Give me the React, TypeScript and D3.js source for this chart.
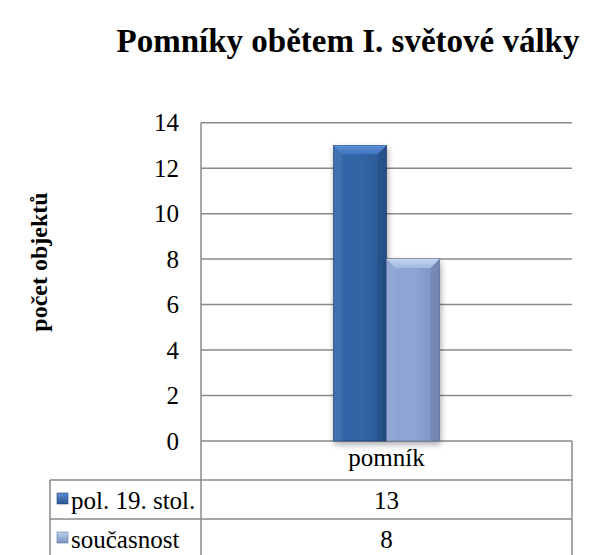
import React from "react";
import * as d3 from "d3";

const categories = ["pomník"];
const seriesNames = ["pol. 19. stol.", "současnost"];
const seriesValues = [[13], [8]];
const yTicks = [0, 2, 4, 6, 8, 10, 12, 14];
const title = "Pomníky obětem I. světové války";
const yTitle = "počet objektů";

const W = 595;
const H = 555;
const plotL = 201;
const plotR = 572;
const plotT = 122.7;
const plotB = 441;
const rowH = 39;
const tableL = 50;
const FONT = "'Liberation Serif', serif";
const FS = 25;

export default function App() {
  const y = d3.scaleLinear().domain([0, 14]).range([plotB, plotT]);
  const x0 = d3.scaleBand<string>().domain(categories).range([plotL, plotR]).paddingInner(0).paddingOuter(1.25);
  const x1 = d3.scaleBand<string>().domain(seriesNames).range([0, x0.bandwidth()]);
  const gridColor = "#8a8a8a";
  const bevel = 9;
  const ts = { fontFamily: FONT };

  return (
    <svg width={W} height={H} style={{ position: "absolute", left: 0, top: 0, background: "#fff" }}>
      <defs>
        <linearGradient id="g0" x1="0" x2="1" y1="0" y2="0">
          <stop offset="0" stopColor="#3466A8" />
          <stop offset="0.5" stopColor="#3265A6" />
          <stop offset="1" stopColor="#2A5690" />
        </linearGradient>
        <linearGradient id="g1" x1="0" x2="1" y1="0" y2="0">
          <stop offset="0" stopColor="#8AA2D2" />
          <stop offset="0.5" stopColor="#8EA7D6" />
          <stop offset="1" stopColor="#7A91BF" />
        </linearGradient>
        <linearGradient id="t0" x1="0" x2="0" y1="0" y2="1">
          <stop offset="0" stopColor="#5E90D6" />
          <stop offset="1" stopColor="#3D73BE" />
        </linearGradient>
        <linearGradient id="t1" x1="0" x2="0" y1="0" y2="1">
          <stop offset="0" stopColor="#C2D4F2" />
          <stop offset="1" stopColor="#A2B8E0" />
        </linearGradient>
        <linearGradient id="k0" x1="0" x2="0" y1="0" y2="1">
          <stop offset="0" stopColor="#5B8DD3" />
          <stop offset="1" stopColor="#2A5690" />
        </linearGradient>
        <linearGradient id="k1" x1="0" x2="0" y1="0" y2="1">
          <stop offset="0" stopColor="#BCD0F0" />
          <stop offset="1" stopColor="#7A91BF" />
        </linearGradient>
        <filter id="sh" x="-20%" y="-20%" width="140%" height="140%">
          <feGaussianBlur in="SourceAlpha" stdDeviation="3" />
          <feOffset dx="1" dy="3" result="b" />
          <feComponentTransfer><feFuncA type="linear" slope="0.35" /></feComponentTransfer>
          <feMerge><feMergeNode /><feMergeNode in="SourceGraphic" /></feMerge>
        </filter>
      </defs>

      <text x={348} y={52} textAnchor="middle" fontSize={33} fontWeight="bold" fill="#000" style={ts}>{title}</text>

      <text transform={`translate(47,${262}) rotate(-90)`} textAnchor="middle" fontSize={24} fontWeight="bold" fill="#000" style={ts}>{yTitle}</text>

      {yTicks.map((t) => (
        <g key={t}>
          <line x1={plotL} x2={plotR} y1={y(t)} y2={y(t)} stroke={gridColor} strokeWidth={1.5} />
          <text x={179} y={y(t) + 8.5} textAnchor="end" fontSize={FS} fill="#000" style={ts}>{t}</text>
        </g>
      ))}
      <line x1={plotL} x2={plotL} y1={plotT} y2={H} stroke={gridColor} strokeWidth={1.5} />
      <line x1={plotR} x2={plotR} y1={plotB} y2={H} stroke={gridColor} strokeWidth={1.5} />
      {seriesNames.map((s, i) => (
        <line key={s} x1={tableL} x2={plotR} y1={plotB + rowH * (i + 1)} y2={plotB + rowH * (i + 1)} stroke={gridColor} strokeWidth={1.5} />
      ))}
      <line x1={tableL} x2={tableL} y1={plotB + rowH} y2={H} stroke={gridColor} strokeWidth={1.5} />

      {categories.map((c, ci) => (
        <g key={c}>
          {seriesNames.map((s, si) => {
            const v = seriesValues[si][ci];
            const bx = (x0(c) ?? 0) + (x1(s) ?? 0);
            const bw = x1.bandwidth();
            const by = y(v);
            const bh = plotB - by;
            return (
              <g key={s} filter="url(#sh)">
                <rect x={bx} y={by} width={bw} height={bh} fill={`url(#g${si})`} stroke={si === 0 ? "#234A80" : "#6479A3"} strokeWidth={0.8} />
                <path d={`M${bx},${by} L${bx + bw},${by} L${bx + bw - bevel},${by + bevel} L${bx + bevel},${by + bevel} Z`} fill={`url(#t${si})`} />
                <path d={`M${bx},${by} L${bx + bevel},${by + bevel} L${bx + bevel},${by + bh} L${bx},${by + bh} Z`} fill="#ffffff" opacity={0.06} />
                <path d={`M${bx + bw},${by} L${bx + bw - bevel},${by + bevel} L${bx + bw - bevel},${by + bh} L${bx + bw},${by + bh} Z`} fill="#000000" opacity={0.08} />
              </g>
            );
          })}
          <text x={(x0(c) ?? 0) + x0.bandwidth() / 2} y={plotB + 25} textAnchor="middle" fontSize={FS} fill="#000" style={ts}>{c}</text>
          {seriesNames.map((s, si) => (
            <text key={s} x={(x0(c) ?? 0) + x0.bandwidth() / 2} y={plotB + rowH * (si + 1) + 29} textAnchor="middle" fontSize={FS} fill="#000" style={ts}>{seriesValues[si][ci]}</text>
          ))}
        </g>
      ))}

      {seriesNames.map((s, si) => {
        const ry = plotB + rowH * (si + 1);
        return (
          <g key={s}>
            <rect x={tableL + 7} y={ry + 13} width={11} height={11} fill={`url(#k${si})`} stroke={si === 0 ? "#234A80" : "#6479A3"} strokeWidth={0.6} />
            <text x={tableL + 21} y={ry + 29} fontSize={FS} fill="#000" style={ts}>{s}</text>
          </g>
        );
      })}
    </svg>
  );
}
